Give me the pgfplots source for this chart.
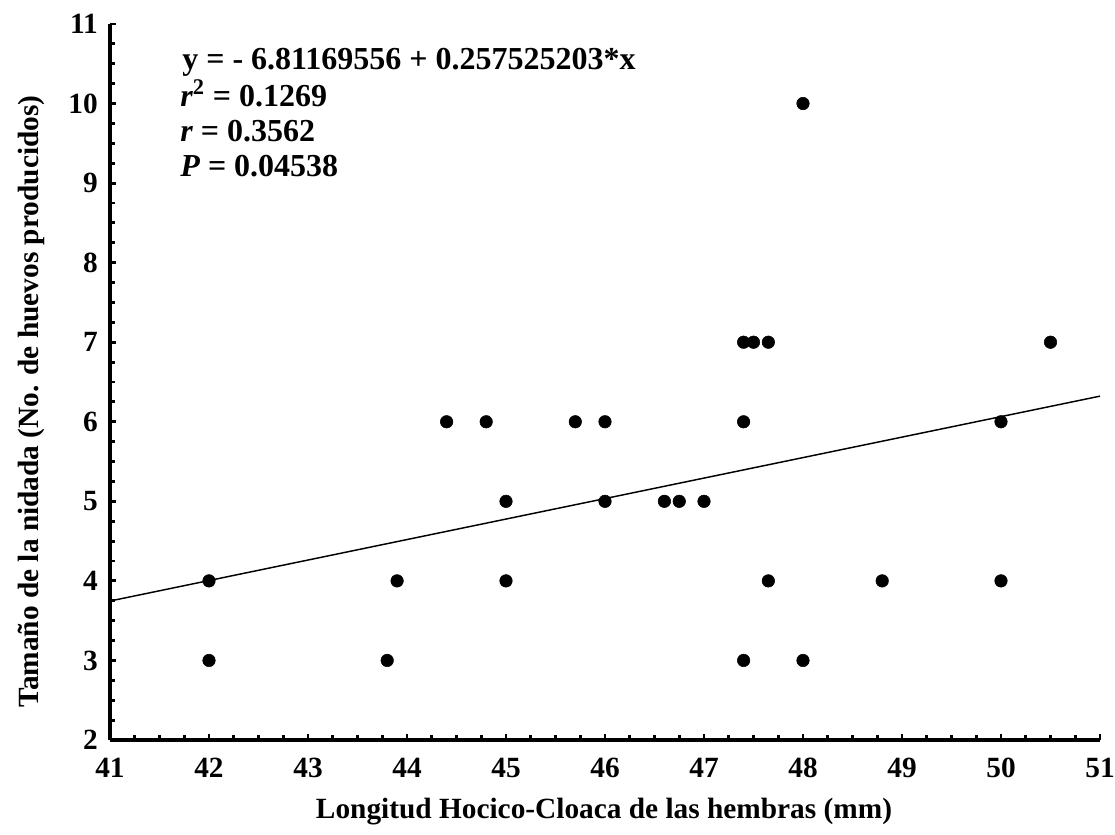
\documentclass[border=0pt]{standalone}
\usepackage{fontspec}
\setmainfont{Liberation Serif}
\usepackage{pgfplots}
\pgfplotsset{compat=1.18}

\begin{document}
\begin{tikzpicture}
% page frame: 1115x835 px at 0.75pt per px
\path[use as bounding box] (0,0) rectangle (836.25pt,626.25pt);
\begin{axis}[
  at={(82.5pt,71.25pt)}, anchor=south west,
  scale only axis,
  width=742.5pt, height=537pt,
  xmin=41, xmax=51, ymin=2, ymax=11,
  axis x line*=bottom, axis y line*=left,
  axis line style={line width=2.8pt, -},
  xtick={41,...,51}, ytick={2,...,11},
  minor x tick num=3, minor y tick num=3,
  tick align=inside,
  major tick length=4.5pt, minor tick length=4pt,
  every tick/.style={black, line width=2.2pt},
  /pgf/number format/assume math mode=true,
  ticklabel style={font=\fontsize{22}{24}\selectfont\bfseries, inner sep=0pt},
  xticklabel style={anchor=base, yshift=-28.5pt},
  yticklabel style={anchor=east, xshift=-9pt},
  clip=false,
]
\addplot[only marks, mark=*, mark size=4.7pt, black] coordinates {
 (42,3) (42,4) (43.8,3) (43.9,4) (44.4,6) (44.8,6) (45,5) (45,4)
 (45.7,6) (46,6) (46,5) (46.6,5) (46.75,5) (47,5)
 (47.4,7) (47.4,6) (47.4,3) (47.5,7) (47.65,7) (47.65,4)
 (48,10) (48,3) (48.8,4) (50,6) (50,4) (50.5,7)};
\addplot[black, line width=1.1pt, mark=none] coordinates {
 (41,3.7469) (51,6.3222)};
\end{axis}
% axis titles
\node[anchor=base, inner sep=0pt, font=\fontsize{22}{24}\selectfont\bfseries]
  at (453pt,12pt) {Longitud Hocico-Cloaca de las hembras (mm)};
\node[anchor=base, rotate=90, inner sep=0pt, font=\fontsize{22}{24}\selectfont\bfseries]
  at (29pt,325pt) {Tamaño de la nidada (No. de huevos producidos)};
% regression statistics
\begin{scope}[every node/.style={anchor=base west, inner sep=0pt,
    font=\fontsize{24}{26}\selectfont\bfseries}]
\node at (136.5pt,573.75pt) {y = - 6.81169556 + 0.257525203*x};
\node at (135pt,546pt) {\textit{r}\textsuperscript{2} = 0.1269};
\node at (135pt,519.75pt) {\textit{r} = 0.3562};
\node at (135pt,493.5pt) {\textit{P} = 0.04538};
\end{scope}
\end{tikzpicture}
\end{document}
